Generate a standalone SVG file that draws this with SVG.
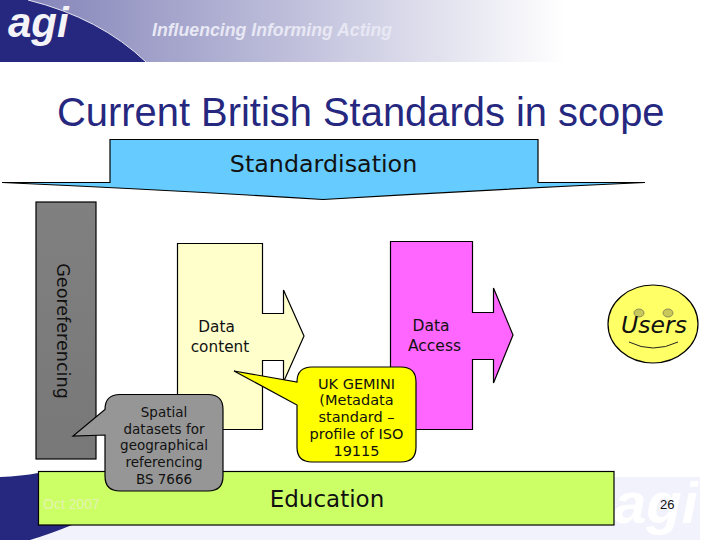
<svg xmlns="http://www.w3.org/2000/svg" width="720" height="540" viewBox="0 0 720 540">
<style>
.v{font-family:"DejaVu Sans",Verdana,sans-serif;fill:#111;text-anchor:middle}
.a{font-family:"Liberation Sans",Arial,sans-serif}
.s{stroke:#000;stroke-width:1.2}
.c{font-size:13.500px}
.g{font-size:14.500px}
</style>
<defs>
<linearGradient id="hd" gradientUnits="userSpaceOnUse" x1="30" y1="0" x2="565" y2="0">
<stop offset="0" stop-color="#8585ba"/><stop offset="0.5" stop-color="#c0c0dc"/><stop offset="1" stop-color="#ffffff"/>
</linearGradient>
<linearGradient id="gr" x1="0" y1="0" x2="0" y2="1">
<stop offset="0" stop-color="#808080"/><stop offset="1" stop-color="#787878"/>
</linearGradient>
</defs>
<rect width="720" height="540" fill="#fff"/>
<g id="background">
<rect x="0" y="0" width="565" height="62" fill="url(#hd)"/>
<path d="M0,0H28Q100,18 146,62H0Z" fill="#26287f"/>
<path d="M28,0Q100,18 146,62" fill="none" stroke="#e4e4f2" stroke-width="1"/>
<text x="8" y="37" class="a" font-size="42" font-weight="bold" font-style="italic" fill="#f4f4f8">agi</text>
<text x="152" y="36" class="a" font-size="17.700" font-weight="bold" font-style="italic" fill="#e8e8f4">Influencing Informing Acting</text>
<rect x="38" y="525" width="662" height="15" fill="#f2f2fc"/>
<rect x="614" y="477" width="86" height="63" fill="#f2f2fc"/>
<path d="M0,477Q22,476 38,473V525H72Q50,534 30,540H0Z" fill="#26287f"/>
<text x="614" y="523" class="a" font-size="58" font-weight="bold" font-style="italic" fill="#fff">agi</text>
</g>
<text x="57" y="126" class="a" font-size="39.900" fill="#26287f">Current British Standards in scope</text>
<g id="connectors"/>
<g id="standardisation">
<path class="s" fill="#66ccff" d="M2,182.500H110V139.500H538V182.500H645Q480,190 323,199.500Q170,190 2,182.500Z"/>
<text x="323.500" y="172" class="v" font-size="23.800">Standardisation</text>
</g>
<g id="georeferencing">
<rect class="s" x="36" y="202" width="60" height="257" fill="url(#gr)"/>
<text transform="translate(57,331) rotate(90)" class="v" font-size="17.600">Georeferencing</text>
</g>
<g id="data-content">
<path class="s" fill="#ffffcc" d="M177.500,243.500H262.500V313.500H283.500V290L304,336L283.500,382V360.500H262.500V429.500H177.500Z"/>
<text x="216.500" y="332" class="v" font-size="15.300">Data</text>
<text x="220" y="352" class="v" font-size="15.300">content</text>
</g>
<g id="data-access">
<path class="s" fill="#ff66ff" d="M390.500,241.500H472.500V312.500H493.500V288L513,335L493.500,383V359.500H472.500V429.500H390.500Z"/>
<text x="431" y="331" class="v" font-size="15.500">Data</text>
<text x="434.500" y="351" class="v" font-size="15.500">Access</text>
</g>
<g id="users">
<ellipse class="s" cx="653" cy="324" rx="45" ry="39" fill="#ffff66"/>
<ellipse cx="639" cy="313" rx="5" ry="4" fill="#c8c85a" stroke="#555" stroke-width=".6"/>
<ellipse cx="668" cy="313" rx="5" ry="4" fill="#c8c85a" stroke="#555" stroke-width=".6"/>
<path d="M629,342Q653,354 678,342" fill="none" stroke="#222" stroke-width="1"/>
<text x="654" y="333" class="v" font-size="23.500" font-style="italic">Users</text>
</g>
<g id="education">
<rect class="s" x="38.500" y="471.500" width="575.500" height="53.500" fill="#ccff66"/>
<text x="327" y="507" class="v" font-size="23">Education</text>
<text x="43" y="509" class="a" font-size="14" fill="#e4f4b0">Oct 2007</text>
</g>
<text x="660" y="509" class="a" font-size="13" fill="#111">26</text>
<g id="callout-spatial">
<path class="s" fill="#969696" d="M120,394.500H208Q223,394.500 223,409.500V476Q223,491 208,491H120Q105,491 105,476V435L73,436L105,409.500Q105,394.500 120,394.500Z"/>
<g class="c">
<text x="164" y="417" class="v">Spatial</text>
<text x="164" y="434" class="v">datasets for</text>
<text x="164" y="450" class="v">geographical</text>
<text x="164" y="467" class="v">referencing</text>
<text x="164" y="484" class="v">BS 7666</text>
</g>
</g>
<g id="callout-gemini">
<path class="s" fill="#ffff00" d="M312,367H401Q416,367 416,382V447Q416,462 401,462H312Q297,462 297,447V405L234,371L297,382Q297,367 312,367Z"/>
<g class="g">
<text x="356.500" y="389" class="v">UK GEMINI</text>
<text x="356.500" y="405" class="v">(Metadata</text>
<text x="356.500" y="422" class="v">standard –</text>
<text x="356.500" y="439" class="v">profile of ISO</text>
<text x="356.500" y="456" class="v">19115</text>
</g>
</g>
</svg>
